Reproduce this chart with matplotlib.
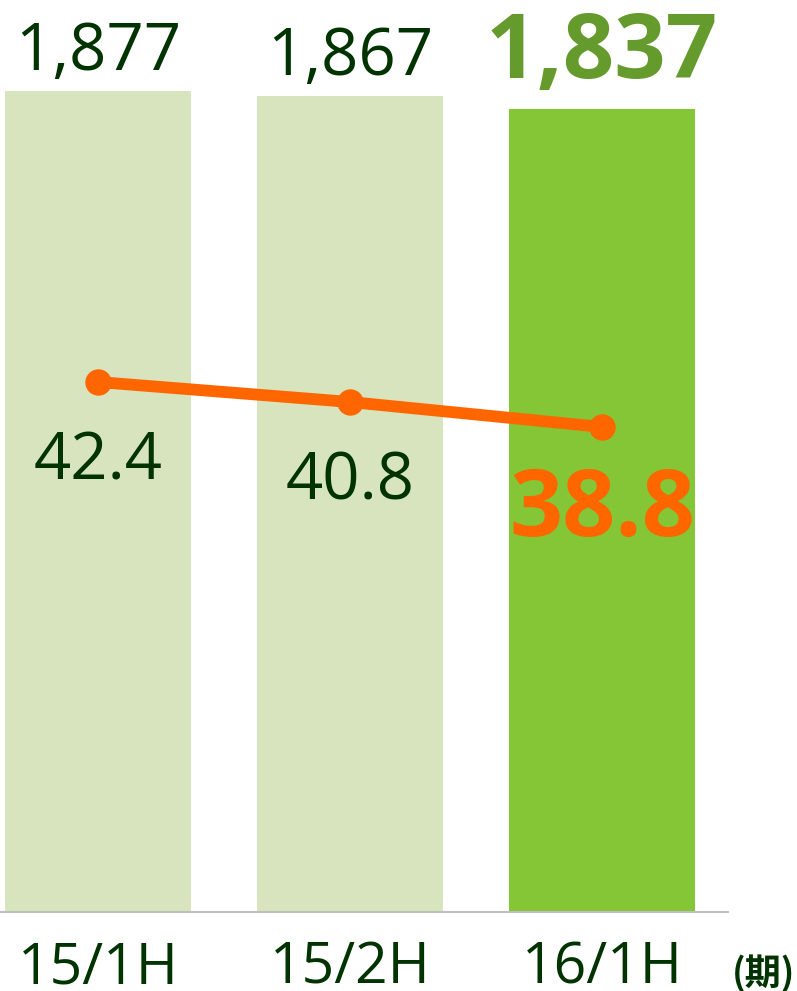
import matplotlib
matplotlib.use("Agg")
import matplotlib.pyplot as plt

plt.rcParams['font.family'] = ['Open Sans', 'Noto Sans CJK JP', 'DejaVu Sans']

# data
periods = ["15/1H", "15/2H", "16/1H"]
sales = [1877, 1867, 1837]
ratio = [42.4, 40.8, 38.8]
highlight = 2  # index of the current period

bar_light = "#D7E4BD"
bar_hi = "#84C636"
dark_green = "#003300"
olive = "#659A2D"
orange = "#FF6600"

W, H = 797, 991
fig = plt.figure(figsize=(W / 100, H / 100), dpi=100)
ax = fig.add_axes([0, 79 / H, 728 / W, 912 / H])

x = list(range(len(periods)))
colors = [bar_hi if i == highlight else bar_light for i in x]
ax.bar(x, sales, width=0.738, color=colors, zorder=2)
ax.set_xlim(-0.389, 2.5)
ax.set_ylim(0, 2086)

for s in ["top", "left", "right"]:
    ax.spines[s].set_visible(False)
ax.spines["bottom"].set_color("#BFBFBF")
ax.spines["bottom"].set_linewidth(1.5)
ax.set_yticks([])
ax.set_xticks([])

# bar value labels
for i, v in enumerate(sales):
    if i == highlight:
        ax.annotate(f"{v:,}", (i, v), xytext=(0, 31), textcoords="offset pixels",
                    ha="center", va="baseline", fontsize=65, fontweight="bold",
                    color=olive)
    else:
        ax.annotate(f"{v:,}", (i, v), xytext=(0, 21), textcoords="offset pixels",
                    ha="center", va="baseline", fontsize=47, color=dark_green)

# category labels
for i, p in enumerate(periods):
    ax.annotate(p, (i, 0), xycoords=("data", "axes fraction"), xytext=(0, -71),
                textcoords="offset pixels", ha="center", va="baseline",
                fontsize=41, color=dark_green)

fig.text(795 / W, 5 / H, "(期)", ha="right", va="baseline", fontsize=26,
         fontweight="bold", color=dark_green, family=["Noto Sans CJK JP"])

# ratio line on a second axis
ax2 = ax.twinx()
ax2.set_ylim(0, 72.96)
ax2.axis("off")
ax2.plot(x, ratio, color=orange, linewidth=8.5, marker="o", markersize=18,
         solid_capstyle="round", zorder=3)

for i, v in enumerate(ratio):
    if i == highlight:
        ax2.annotate(f"{v}", (i, v), xytext=(0, -109), textcoords="offset pixels",
                     ha="center", va="baseline", fontsize=67, fontweight="bold",
                     color=orange)
    else:
        ax2.annotate(f"{v}", (i, v), xytext=(0, -98), textcoords="offset pixels",
                     ha="center", va="baseline", fontsize=47, color=dark_green)

fig.savefig("out.png", dpi=100)
